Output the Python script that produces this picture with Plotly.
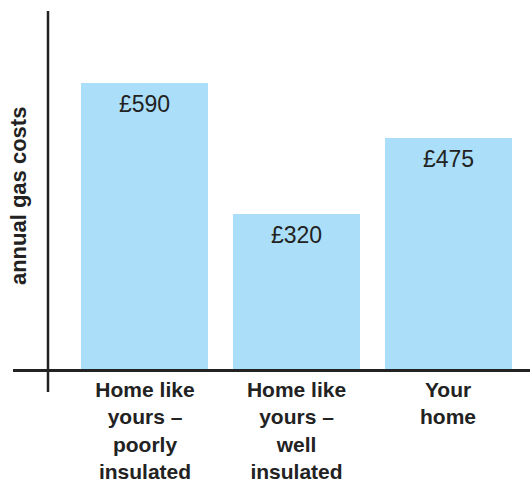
import plotly.graph_objects as go

# Annual gas cost comparison
categories = [
    "Home like<br>yours –<br>poorly<br>insulated",
    "Home like<br>yours –<br>well<br>insulated",
    "Your<br>home",
]
costs = [590, 320, 475]
value_labels = ["£590", "£320", "£475"]

BAR_COLOR = "#abdff9"
INK = "#222222"
FONT = "Liberation Sans, Arial, Helvetica, sans-serif"

fig = go.Figure(
    go.Bar(
        x=categories,
        y=costs,
        width=0.838,
        marker=dict(color=BAR_COLOR, line=dict(width=0)),
        hoverinfo="skip",
    )
)

# value labels just inside the top of each bar
for cat, val, lab in zip(categories, costs, value_labels):
    fig.add_annotation(
        x=cat, y=val, text=lab, showarrow=False,
        xref="x", yref="y", yanchor="middle", yshift=-21,
        font=dict(family=FONT, size=23, color=INK),
    )

# vertical axis line, running a little below the baseline
fig.add_shape(
    type="line", xref="x", yref="paper",
    x0=-0.640, x1=-0.640, y0=-0.064, y1=1.0,
    line=dict(color=INK, width=2.5),
)

# axis title
fig.add_annotation(
    text="<b>annual gas costs</b>", textangle=-90, showarrow=False,
    xref="paper", yref="paper", x=0.0097, y=0.483,
    xanchor="center", yanchor="middle",
    font=dict(family=FONT, size=22, color=INK),
)

fig.update_layout(
    width=530, height=482,
    margin=dict(l=13, r=0, t=11, b=113),
    paper_bgcolor="white", plot_bgcolor="white",
    showlegend=False,
    bargap=0,
    font=dict(family=FONT, color=INK),
)
fig.update_xaxes(
    type="category",
    range=[-0.871, 2.541],
    showline=True, linecolor=INK, linewidth=2.5,
    showgrid=False, zeroline=False, ticks="",
    tickvals=categories,
    ticktext=[f"<b>{c}</b>" for c in categories],
    tickfont=dict(family=FONT, size=21, color=INK),
    fixedrange=True,
)
fig.update_yaxes(
    range=[0, 737.5],
    showline=False, showgrid=False, zeroline=False,
    showticklabels=False, ticks="",
    fixedrange=True,
)

fig.write_html("out.html")
